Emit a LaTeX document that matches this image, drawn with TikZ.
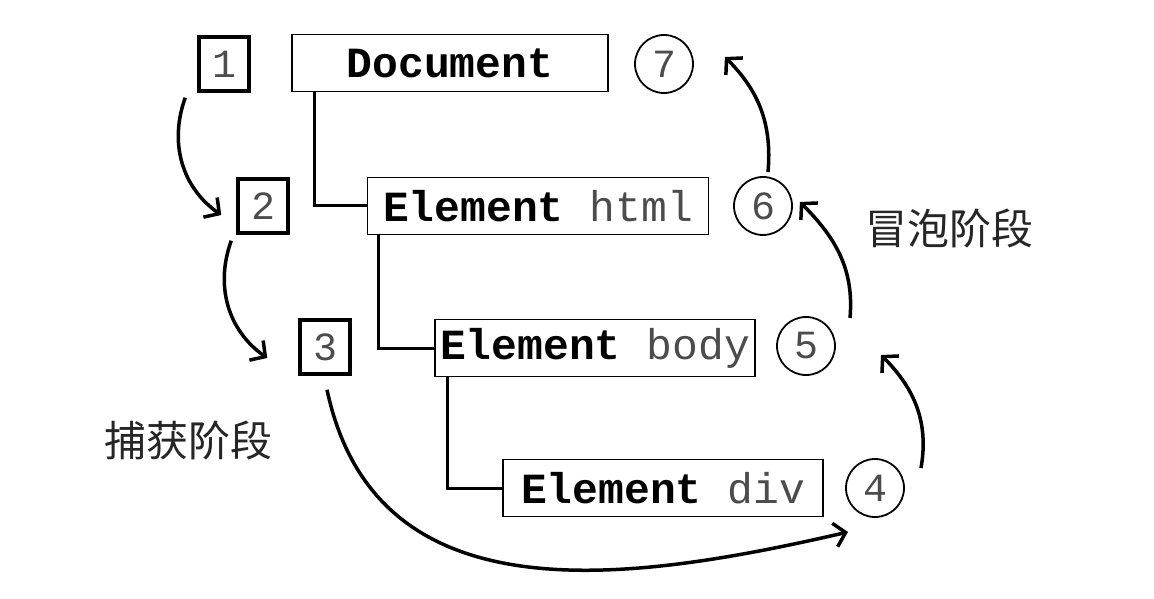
\documentclass[tikz,border=0pt]{standalone}
\usepackage{fontspec}
\setmonofont{Liberation Mono}
\newfontfamily\cjkfont{Noto Sans CJK SC}
\usetikzlibrary{arrows.meta}

\newcommand{\thin}[1]{\textcolor{black!70}{#1}}

\tikzset{
  elem/.style={draw, line width=1.8pt, minimum height=57pt, inner sep=0pt,
    font=\ttfamily\fontsize{43}{50}\selectfont},
  stepbox/.style={draw, line width=3.5pt, minimum width=50pt, minimum height=54pt,
    inner sep=0pt, text=black!70, font=\ttfamily\fontsize{40}{48}\selectfont},
  stepcirc/.style={draw, circle, line width=1.8pt, minimum size=58pt, inner sep=0pt,
    text=black!70, font=\ttfamily\fontsize{40}{48}\selectfont},
  tree/.style={line width=3pt},
  flow/.style={line width=3.5pt, -{Straight Barb[length=11pt,width=24pt]}},
  phase/.style={text=black!85, font=\cjkfont\fontsize{42}{48}\selectfont}
}

\begin{document}
\begin{tikzpicture}[x=1pt, y=1pt]
  \useasboundingbox (0,0) rectangle (1154,598);

  % DOM tree
  \node[elem, minimum width=316pt] (doc)  at (450,535) {\textbf{Document}};
  \node[elem, minimum width=341pt] (html) at (538,392) {\textbf{Element} \thin{html}};
  \node[elem, minimum width=320pt] (body) at (595,250) {\textbf{Element} \thin{body}};
  \node[elem, minimum width=320pt] (div)  at (663,110) {\textbf{Element} \thin{div}};

  \draw[tree] ([xshift=23pt]doc.south west)  |- (html.west);
  \draw[tree] ([xshift=12pt]html.south west) |- (body.west);
  \draw[tree] ([xshift=13pt]body.south west) |- (div.west);

  % capture steps
  \node[stepbox] (n1) at (224,534) {1};
  \node[stepbox] (n2) at (263,392) {2};
  \node[stepbox] (n3) at (325,251) {3};

  % bubble steps
  \node[stepcirc] (c4) at (875,110) {4};
  \node[stepcirc] (c5) at (806,252) {5};
  \node[stepcirc] (c6) at (763,392) {6};
  \node[stepcirc] (c7) at (664,534) {7};

  \node[phase] (capture) at (188,158) {捕获阶段};
  \node[phase] (bubble)  at (949,370) {冒泡阶段};

  % arrows
  \draw[flow] ([shift={(-12,-5)}]n1.south west) to[out=250, in=145] ([shift={(-15,-9)}]n2.west);
  \draw[flow] ([shift={(-5,-6)}]n2.south west) to[out=250, in=145] ([shift={(-31,-11)}]n3.west);
  \draw[flow] ([shift={(2,-14)}]n3.south) to[out=-78, in=193, looseness=1.1] ([shift={(-27,-44)}]c4.center);
  \draw[flow] ([shift={(46,20)}]c4.center) to[out=80, in=-45] ([shift={(75,-9)}]c5.center);
  \draw[flow] ([shift={(44,28)}]c5.center) to[out=85, in=-45] ([shift={(7,4)}]c6.east);
  \draw[flow] ([shift={(5,4)}]c6.north) to[out=85, in=-45] ([shift={(31,7)}]c7.east);
\end{tikzpicture}
\end{document}
